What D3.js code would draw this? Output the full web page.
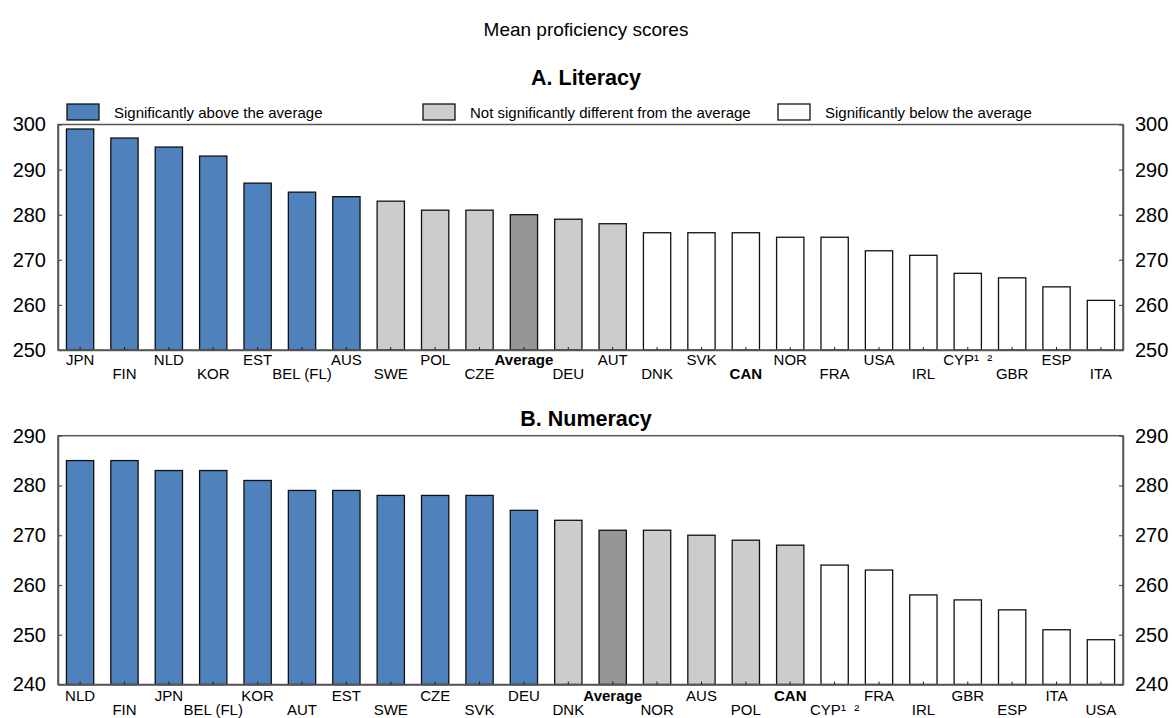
<!DOCTYPE html>
<html>
<head>
<meta charset="utf-8">
<script src="https://cdn.jsdelivr.net/npm/d3@7"></script>
<style>
  html, body { margin: 0; padding: 0; background: #fff; }
  svg { display: block; font-family: "Liberation Sans", Arial, sans-serif; }
</style>
</head>
<body>
<svg id="chart" width="1172" height="718"></svg>
<script>
// ---- Data ----
const literacyCategories = ["JPN","FIN","NLD","KOR","EST","BEL (FL)","AUS","SWE","POL","CZE","Average","DEU","AUT","DNK","SVK","CAN","NOR","FRA","USA","IRL","CYP¹\u00a0\u00a0²","GBR","ESP","ITA"];
const literacyValues = [299,297,295,293,287,285,284,283,281,281,280,279,278,276,276,276,275,275,272,271,267,266,264,261];
const literacyGroups = ["above","above","above","above","above","above","above","same","same","same","avg","same","same","below","below","below","below","below","below","below","below","below","below","below"];

const numeracyCategories = ["NLD","FIN","JPN","BEL (FL)","KOR","AUT","EST","SWE","CZE","SVK","DEU","DNK","Average","NOR","AUS","POL","CAN","CYP¹\u00a0\u00a0²","FRA","IRL","GBR","ESP","ITA","USA"];
const numeracyValues = [285,285,283,283,281,279,279,278,278,278,275,273,271,271,270,269,268,264,263,258,257,255,251,249];
const numeracyGroups = ["above","above","above","above","above","above","above","above","above","above","above","same","avg","same","same","same","same","below","below","below","below","below","below","below"];

const literacyTicks = [250,260,270,280,290,300];
const numeracyTicks = [240,250,260,270,280,290];

const legendLabels = ["Significantly above the average","Not significantly different from the average","Significantly below the average"];
const legendGroups = ["above","same","below"];

const chartTitle = "Mean proficiency scores";
const panelTitles = ["A. Literacy","B. Numeracy"];
const boldLabels = ["Average","CAN"];

// ---- Styles ----
const fillFor = {above:"#4f81bd", same:"#cccccc", avg:"#969696", below:"#ffffff"};
const axisColor = "#555";
const FONT = "Liberation Sans, Arial, sans-serif";

const svg = d3.select("#chart");
const left = 58, right = 1123;

svg.append("text").attr("x", 586).attr("y", 36).attr("text-anchor","middle")
  .attr("font-size", 19).attr("fill","#000").text(chartTitle);

function panel(cfg) {
  const g = svg.append("g");
  const x = d3.scaleBand().domain(cfg.cats).range([left, right]).paddingInner(0.385).paddingOuter(0.19);
  const y = d3.scaleLinear().domain(cfg.domain).range([cfg.bottom, cfg.top]);
  const data = cfg.cats.map((c,i)=>({c, v: cfg.vals[i], grp: cfg.groups[i]}));

  g.append("text").attr("x", 586).attr("y", cfg.titleY).attr("text-anchor","middle")
    .attr("font-size", 21.5).attr("font-weight","bold").attr("fill","#000").text(cfg.title);

  // bars
  g.selectAll("rect.bar").data(data).join("rect").attr("class","bar")
    .attr("x", d=>x(d.c)).attr("width", x.bandwidth())
    .attr("y", d=>y(d.v)).attr("height", d=>y(cfg.domain[0]) - y(d.v))
    .attr("fill", d=>fillFor[d.grp]).attr("stroke","#111").attr("stroke-width",1.3);

  // frame
  g.append("rect").attr("x", left).attr("y", y(cfg.domain[1])).attr("width", right-left)
    .attr("height", y(cfg.domain[0]) - y(cfg.domain[1]))
    .attr("fill","none").attr("stroke", axisColor).attr("stroke-width",1.5);

  // left / right axes
  const la = g.append("g").attr("transform",`translate(${left},0)`)
    .call(d3.axisLeft(y).tickValues(cfg.ticks).tickFormat(d3.format("d")).tickSizeInner(-4).tickSizeOuter(0).tickPadding(12));
  const ra = g.append("g").attr("transform",`translate(${right},0)`)
    .call(d3.axisRight(y).tickValues(cfg.ticks).tickFormat(d3.format("d")).tickSizeInner(-4).tickSizeOuter(0).tickPadding(12));
  [la, ra].forEach(a=>{
    a.select(".domain").attr("stroke", axisColor).attr("stroke-width",1.5);
    a.selectAll(".tick line").attr("stroke", axisColor).attr("stroke-width",1.2);
    a.selectAll(".tick text").attr("font-size", 20).attr("fill","#000").attr("font-family", FONT);
  });

  // bottom axis
  const ba = g.append("g").attr("transform",`translate(0,${y(cfg.domain[0])})`)
    .call(d3.axisBottom(x).tickSizeInner(-3).tickSizeOuter(0));
  ba.select(".domain").attr("stroke", axisColor).attr("stroke-width",1.5);
  ba.selectAll(".tick line").attr("stroke", "#222").attr("stroke-width",1);
  ba.selectAll(".tick text")
    .attr("dy", 0)
    .attr("y", (d,i)=> i%2===0 ? cfg.row1 : cfg.row2)
    .attr("font-size", 15).attr("fill","#000")
    .attr("font-family", FONT)
    .attr("font-weight", d=> boldLabels.includes(d) ? "bold" : "normal");
  return g;
}

panel({cats: literacyCategories, vals: literacyValues, groups: literacyGroups, ticks: literacyTicks,
  domain:[250,300], top:124.5, bottom:350, title: panelTitles[0], titleY: 85, row1: 15, row2: 29});
panel({cats: numeracyCategories, vals: numeracyValues, groups: numeracyGroups, ticks: numeracyTicks,
  domain:[240,290], top:435.7, bottom:684.5, title: panelTitles[1], titleY: 426, row1: 16, row2: 30});

// legend
const legendX = d3.scaleOrdinal().domain(legendGroups).range([67, 423, 778]);
const lg = svg.append("g");
legendGroups.forEach((grp,i)=>{
  const lx = legendX(grp);
  lg.append("rect").attr("x", lx).attr("y", 104).attr("width", 32).attr("height", 16)
    .attr("fill", fillFor[grp]).attr("stroke","#111").attr("stroke-width",1.3);
  lg.append("text").attr("x", lx+47).attr("y", 118).attr("font-size", 15).attr("fill","#000").text(legendLabels[i]);
});
</script>
</body>
</html>
